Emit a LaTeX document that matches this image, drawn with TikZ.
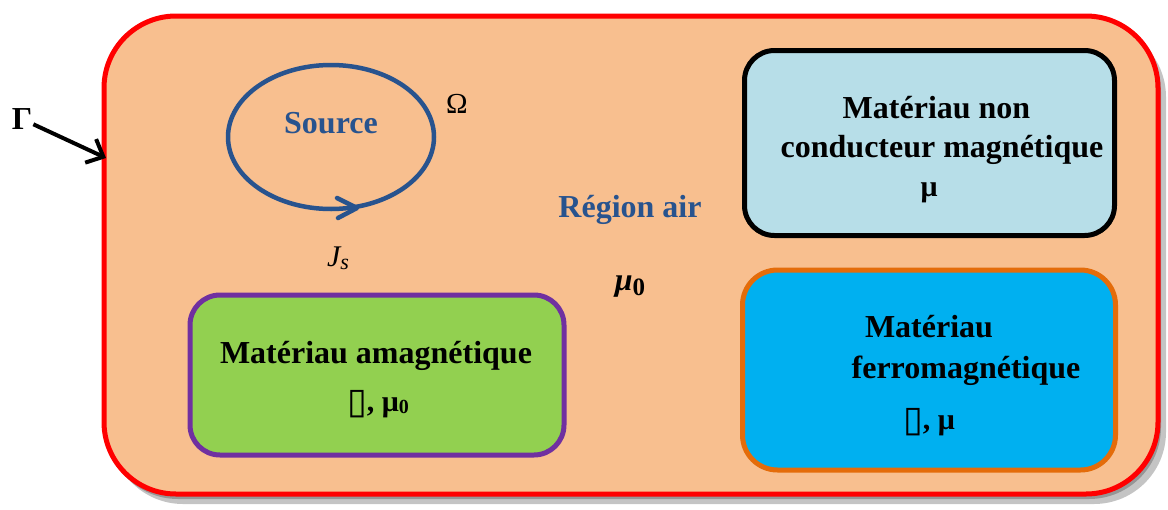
\documentclass[tikz,border=0pt]{standalone}
\usepackage{fontspec}
\setmainfont{Liberation Serif}
\newfontfamily\dvs{DejaVu Sans}
\usetikzlibrary{arrows.meta,shapes.geometric}
\definecolor{outerfill}{RGB}{248,191,143}
\definecolor{outerline}{RGB}{255,0,0}
\definecolor{shadowlight}{RGB}{196,196,196}
\definecolor{shadowdark}{RGB}{150,150,150}
\definecolor{lbfill}{RGB}{183,222,232}
\definecolor{bfill}{RGB}{0,176,240}
\definecolor{bline}{RGB}{228,108,10}
\definecolor{gfill}{RGB}{146,208,80}
\definecolor{gline}{RGB}{112,48,160}
\definecolor{srcblue}{RGB}{40,83,142}
\newcommand{\missingglyph}{{\dvs\mdseries\fontsize{36}{40}\selectfont\raisebox{-2pt}{▯}}}
\tikzset{
  lbl/.style={font=\fontsize{32}{38}\selectfont\bfseries, anchor=base, inner sep=0pt},
  matbox/.style={line width=5pt, rounded corners=30pt},
}
\begin{document}
\begin{tikzpicture}[x=1pt,y=-1pt]
\useasboundingbox (0,0) rectangle (1168,509);
% shadow of the domain
\fill[shadowlight, rounded corners=72pt] (111,25) rectangle (1166,504);
\fill[shadowdark, rounded corners=72pt] (106,20) rectangle (1161,499);
% domain
\node[draw=outerline, fill=outerfill, line width=5pt, rounded corners=72pt,
      minimum width=1054pt, minimum height=478pt] (domain) at (631,255) {};
% material boxes
\node[matbox, draw=black, fill=lbfill, minimum width=370pt, minimum height=185pt] (nc) at (929.5,143) {};
\node[matbox, draw=bline, fill=bfill, rounded corners=35pt, minimum width=373pt, minimum height=200pt] (fe) at (929,370) {};
\node[matbox, draw=gline, fill=gfill, minimum width=374pt, minimum height=160pt] (am) at (377,375) {};
% source
\node[ellipse, draw=srcblue, line width=4.5pt, minimum width=206pt, minimum height=144pt, inner sep=0pt] (src) at (331,137) {};
\coordinate (tipA) at (337,198);
\coordinate (tipB) at (357,208);
\coordinate (tipC) at (338,218);
\draw[srcblue, line width=4.5pt, line join=round, line cap=round] (tipA) -- (tipB) -- (tipC);
\node[lbl, text=srcblue] (srctxt) at (331,133) {Source};
\node[lbl, font=\fontsize{29}{33}\selectfont] (omega) at (457,113) {Ω};
\node[lbl, font=\fontsize{30}{34}\selectfont\itshape] (js) at (338,266) {J\raisebox{-3pt}{\fontsize{22}{26}\selectfont s}};
% air region
\node[lbl, text=srcblue] (air) at (630,217) {Région air};
\node[lbl, font=\fontsize{32}{36}\selectfont\bfseries\itshape] (mu0) at (630,290) {μ\raisebox{-5pt}{\upshape\fontsize{25}{28}\selectfont 0}};
% texts in boxes
\node[lbl] (nc1) at (936.5,118) {Matériau non};
\node[lbl] (nc2) at (942,157) {conducteur magnétique};
\node[lbl, font=\fontsize{30}{34}\selectfont\bfseries] (nc3) at (929,196) {μ};
\node[lbl] (fe1) at (929,337) {Matériau};
\node[lbl] (fe2) at (966,378) {ferromagnétique};
\node[lbl, font=\fontsize{30}{34}\selectfont\bfseries] (fe3) at (929,429) {\missingglyph, μ};
\node[lbl] (am1) at (376,363) {Matériau amagnétique};
\node[lbl, font=\fontsize{30}{34}\selectfont\bfseries] (am2) at (378,411) {\missingglyph, μ\raisebox{-2pt}{\fontsize{20}{24}\selectfont 0}};
% boundary label
\node[font=\fontsize{32}{38}\selectfont\bfseries, inner sep=1pt] (gamma) at (22,119) {Γ};
\coordinate (gtip) at (106,158);
\draw[line width=4pt, -{Straight Barb[length=14pt, width=26pt]}] (gamma) -- (gtip);
\end{tikzpicture}
\end{document}
